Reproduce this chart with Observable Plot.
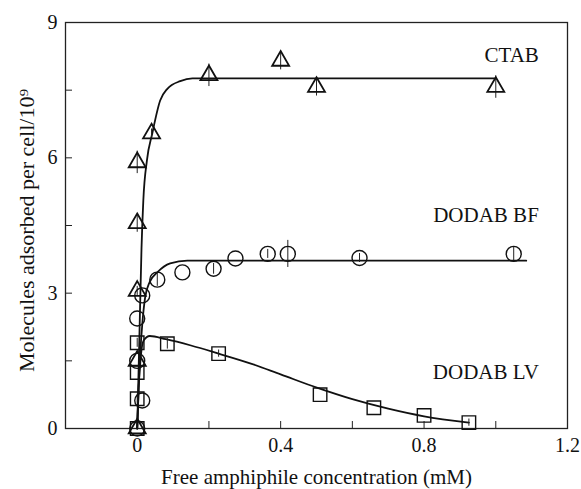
<!DOCTYPE html>
<html><head><meta charset="utf-8">
<script src="https://cdn.jsdelivr.net/npm/d3@7"></script>
<script src="https://cdn.jsdelivr.net/npm/@observablehq/plot@0.6"></script>
<style>
body{margin:0;background:#fff}
svg, svg text {font-family: "Liberation Serif", "Times New Roman", serif !important;}
</style>
</head><body><div id="chart"></div>
<script>
// CTAB (triangles)
const ctabX = [0, 0, 0, 0, 0, 0.04, 0.2, 0.4, 0.5, 1.0];
const ctabY = [0, 1.5, 3.05, 4.55, 5.9, 6.54, 7.83, 8.15, 7.57, 7.57];
const ctabErr = [0, 0, 0.1, 0.2, 0.25, 0.1, 0.25, 0.2, 0.2, 0.25];
const ctabFitX = [0, 0.006, 0.012, 0.017, 0.027, 0.042, 0.064, 0.084, 0.12, 0.154, 0.3, 0.6, 1.0];
const ctabFitY = [0, 2.0, 4.0, 5.05, 5.94, 6.54, 7.27, 7.53, 7.7, 7.76, 7.76, 7.76, 7.76];
// DODAB BF (circles)
const bfX = [0, 0.014, 0, 0, 0.014, 0.056, 0.126, 0.213, 0.274, 0.364, 0.42, 0.62, 1.05];
const bfY = [0, 0.62, 1.5, 2.44, 2.95, 3.3, 3.46, 3.54, 3.77, 3.87, 3.87, 3.78, 3.87];
const bfErr = [0, 0, 0, 0, 0, 0.15, 0, 0.12, 0, 0.1, 0.3, 0.1, 0.15];
const bfFitX = [0, 0.004, 0.008, 0.014, 0.022, 0.035, 0.056, 0.092, 0.14, 0.4, 0.8, 1.085];
const bfFitY = [0, 0.9, 1.6, 2.3, 2.9, 3.25, 3.46, 3.66, 3.72, 3.72, 3.72, 3.72];
// DODAB LV (squares)
const lvX = [0, 0, 0, 0, 0.084, 0.227, 0.51, 0.66, 0.8, 0.925];
const lvY = [0, 0.66, 1.24, 1.9, 1.88, 1.66, 0.75, 0.46, 0.29, 0.13];
const lvErr = [0, 0.1, 0, 0.1, 0.12, 0.08, 0, 0, 0, 0.08];
const lvFitX = [0, 0.004, 0.01, 0.018, 0.035, 0.08, 0.15, 0.227, 0.317, 0.4, 0.503, 0.6, 0.7, 0.8, 0.925];
const lvFitY = [0, 0.9, 1.6, 1.95, 2.05, 1.98, 1.84, 1.66, 1.44, 1.2, 0.9, 0.65, 0.44, 0.27, 0.13];
// Labels
const seriesNames = ["CTAB", "DODAB BF", "DODAB LV"];
const labelX = [1.12, 1.12, 1.12];
const labelY = [8.27, 4.72, 1.24];
// Ticks
const xMajorTicks = [0, 0.4, 0.8, 1.2];
const xAllTicks = [0, 0.2, 0.4, 0.6, 0.8, 1.0];
const yMajorTicks = [0, 3, 6, 9];
const yAllTicks = [1.5, 3, 4.5, 6, 7.5];
const xTitle = "Free amphiphile concentration (mM)";
const yTitle = "Molecules adsorbed per cell/10⁹";

const FONT = "'Liberation Serif', 'Times New Roman', serif";
const toRows = (xs, ys, es) => xs.map((x, i) => ({x, y: ys[i], e: es ? es[i] : 0}));
const ctab = toRows(ctabX, ctabY, ctabErr);
const bf = toRows(bfX, bfY, bfErr);
const lv = toRows(lvX, lvY, lvErr);
const ctabFit = toRows(ctabFitX, ctabFitY);
const bfFit = toRows(bfFitX, bfFitY);
const lvFit = toRows(lvFitX, lvFitY);
const labels = seriesNames.map((n, i) => ({n, x: labelX[i], y: labelY[i]}));

const errMarks = (rows) => Plot.ruleX(rows.filter(d => d.e > 0), {x: "x", y1: d => d.y - d.e, y2: d => d.y + d.e, stroke: "#222", strokeWidth: 1});

const chart = Plot.plot({
  width: 581, height: 489,
  marginLeft: 65, marginRight: 14, marginTop: 22, marginBottom: 61,
  x: {domain: [-0.2, 1.2]},
  y: {domain: [0, 9]},
  style: {fontFamily: FONT, color: "#111", background: "#fff"},
  marks: [
    Plot.frame({stroke: "#222", strokeWidth: 1.3}),
    Plot.axisX(xAllTicks, {tickSize: -7, tickFormat: () => "", label: null, stroke: "#222"}),
    Plot.axisX(xMajorTicks, {tickSize: 0, tickPadding: 9, fontSize: 20, fontFamily: FONT, label: null, tickFormat: d => String(d)}),
    Plot.axisY(yAllTicks, {tickSize: -7, tickFormat: () => "", label: null, stroke: "#222"}),
    Plot.axisY(yMajorTicks, {tickSize: 0, tickPadding: 8, fontSize: 20, fontFamily: FONT, label: null, tickFormat: d => String(d)}),
    Plot.line(ctabFit, {x: "x", y: "y", curve: "monotone-x", stroke: "#111", strokeWidth: 1.8}),
    Plot.line(bfFit, {x: "x", y: "y", curve: "monotone-x", stroke: "#111", strokeWidth: 1.8}),
    Plot.line(lvFit, {x: "x", y: "y", curve: "monotone-x", stroke: "#111", strokeWidth: 1.8}),
    errMarks(ctab), errMarks(bf), errMarks(lv),
    Plot.dot(ctab, {x: "x", y: "y", symbol: "triangle", r: 6.3, stroke: "#111", strokeWidth: 1.8, fill: "none"}),
    Plot.dot(bf, {x: "x", y: "y", symbol: "circle", r: 7.5, stroke: "#111", strokeWidth: 1.4, fill: "none"}),
    Plot.dot(lv, {x: "x", y: "y", symbol: "square", r: 7.6, stroke: "#111", strokeWidth: 1.4, fill: "none"}),
    Plot.text(labels, {x: "x", y: "y", text: "n", textAnchor: "end", fontSize: 21, fontFamily: FONT, fill: "#111"}),
    Plot.text([xTitle], {frameAnchor: "bottom", textAnchor: "middle", lineAnchor: "middle", dy: 49, fontSize: 21, fontFamily: FONT, fill: "#111"}),
    Plot.text([yTitle], {frameAnchor: "left", textAnchor: "middle", lineAnchor: "middle", dx: -39, dy: 5, rotate: -90, fontSize: 22, fontFamily: FONT, fill: "#111"})
  ]
});
document.getElementById("chart").appendChild(chart);
</script>
</body></html>
